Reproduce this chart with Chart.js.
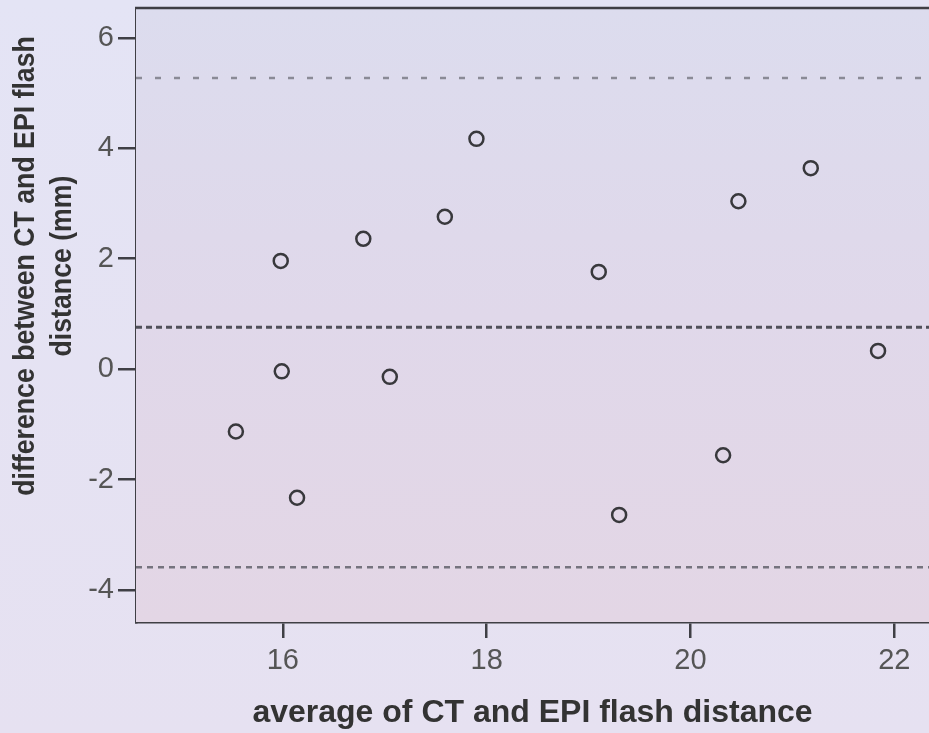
<!DOCTYPE html>
<html>
<head>
<meta charset="utf-8">
<script src="https://cdn.jsdelivr.net/npm/chart.js@4.4.0/dist/chart.umd.min.js"></script>
<style>
html, body { margin: 0; padding: 0; width: 929px; height: 733px; overflow: hidden; }
body { background: linear-gradient(180deg, #e4e4f5 0%, #e6e1f1 100%); }
#wrap { position: relative; width: 929px; height: 733px; }
</style>
</head>
<body>
<div id="wrap"><canvas id="chart"></canvas></div>
<script>
// average of the two measurements (x) and their difference (y)
const avgValues  = [15.54, 15.98, 15.99, 16.14, 16.79, 17.05, 17.59, 17.90, 19.10, 19.30, 20.32, 20.47, 21.18, 21.84];
const diffValues = [-1.13, 1.96, -0.04, -2.33, 2.36, -0.14, 2.76, 4.17, 1.76, -2.64, -1.56, 3.04, 3.64, 0.33];

// mean difference and limits of agreement
const meanDiff = 0.76;
const upperLimit = 5.27;
const lowerLimit = -3.59;

const xTicks = [16, 18, 20, 22];
const yTicks = [-4, -2, 0, 2, 4, 6];
const xRange = [14.56, 22.34];
const yRange = [-4.58, 6.54];

const xTitle = 'average of CT and EPI flash distance';
const yTitle = ['difference between CT and EPI flash', 'distance (mm)'];

const points = avgValues.map((x, i) => ({ x: x, y: diffValues[i] }));
const hLine = v => [{ x: xRange[0], y: v }, { x: xRange[1], y: v }];

// plot background, top border and the two-line y title
const framePlugin = {
    id: 'frame',
    beforeDatasetsDraw(chart) {
        const { ctx, chartArea: a } = chart;
        ctx.save();
        const g = ctx.createLinearGradient(0, a.top, 0, a.bottom);
        g.addColorStop(0, '#dcdcee');
        g.addColorStop(0.5, '#e0d8ea');
        g.addColorStop(1, '#e3d6e5');
        ctx.fillStyle = g;
        ctx.fillRect(a.left, a.top, a.right - a.left, a.bottom - a.top);
        ctx.restore();
    },
    afterDraw(chart) {
        const { ctx, chartArea: a } = chart;
        ctx.save();
        ctx.strokeStyle = '#3f3f45';
        ctx.lineWidth = 2.5;
        ctx.beginPath();
        ctx.moveTo(a.left - 1, a.top);
        ctx.lineTo(a.right, a.top);
        ctx.stroke();

        ctx.fillStyle = '#333';
        ctx.font = 'bold 29px "Liberation Sans", Arial, sans-serif';
        ctx.textAlign = 'center';
        ctx.textBaseline = 'alphabetic';
        const baseX = [34, 71];
        yTitle.forEach((line, i) => {
            ctx.save();
            ctx.translate(baseX[i], 266);
            ctx.rotate(-Math.PI / 2);
            ctx.scale(0.92, 1);
            ctx.fillText(line, 0, 0);
            ctx.restore();
        });
        ctx.restore();
    }
};

const ctx = document.getElementById('chart');
new Chart(ctx, {
    type: 'scatter',
    data: {
        datasets: [
            {
                label: 'upper',
                type: 'line',
                data: hLine(upperLimit),
                borderColor: '#8a8a96',
                borderWidth: 2.5,
                borderDash: [6, 13],
                pointRadius: 0
            },
            {
                label: 'mean',
                type: 'line',
                data: hLine(meanDiff),
                borderColor: '#50505a',
                borderWidth: 3,
                borderDash: [6, 4],
                pointRadius: 0
            },
            {
                label: 'lower',
                type: 'line',
                data: hLine(lowerLimit),
                borderColor: '#75737e',
                borderWidth: 2.5,
                borderDash: [6, 5],
                pointRadius: 0
            },
            {
                label: 'difference',
                data: points,
                pointStyle: 'circle',
                pointRadius: 7,
                pointBorderWidth: 2.5,
                borderColor: '#38383c',
                backgroundColor: 'rgba(0,0,0,0)',
                pointHoverRadius: 7
            }
        ]
    },
    options: {
        responsive: true,
        maintainAspectRatio: false,
        animation: false,
        layout: { autoPadding: false, padding: { top: 8, right: 0, left: 0, bottom: 0 } },
        plugins: {
            legend: { display: false },
            tooltip: { enabled: false }
        },
        scales: {
            x: {
                type: 'linear',
                min: xRange[0],
                max: xRange[1],
                afterBuildTicks: s => { s.ticks = xTicks.map(v => ({ value: v })); },
                afterFit: s => { s.height = 111; s.paddingLeft = 0; s.paddingRight = 0; },
                border: { display: true, color: '#3f3f45', width: 2.5 },
                grid: { drawOnChartArea: false, drawTicks: true, tickLength: 16, color: '#3f3f45', lineWidth: 2.5 },
                ticks: {
                    padding: 6,
                    color: '#555',
                    font: { family: '"Liberation Sans", Arial, sans-serif', size: 29 },
                    callback: v => v
                },
                title: {
                    display: true,
                    text: xTitle,
                    color: '#333',
                    font: { family: '"Liberation Sans", Arial, sans-serif', size: 32, weight: 'bold' },
                    padding: { top: 0, bottom: 1 }
                }
            },
            y: {
                type: 'linear',
                min: yRange[0],
                max: yRange[1],
                afterBuildTicks: s => { s.ticks = yTicks.map(v => ({ value: v })); },
                afterFit: s => { s.width = 136; s.paddingTop = 0; s.paddingBottom = 0; },
                border: { display: true, color: '#3f3f45', width: 2.5 },
                grid: { drawOnChartArea: false, drawTicks: true, tickLength: 18, color: '#3f3f45', lineWidth: 2.5 },
                ticks: {
                    padding: 4,
                    color: '#555',
                    font: { family: '"Liberation Sans", Arial, sans-serif', size: 29 },
                    callback: v => v
                },
                title: { display: false }
            }
        }
    },
    plugins: [framePlugin]
});
</script>
</body>
</html>
